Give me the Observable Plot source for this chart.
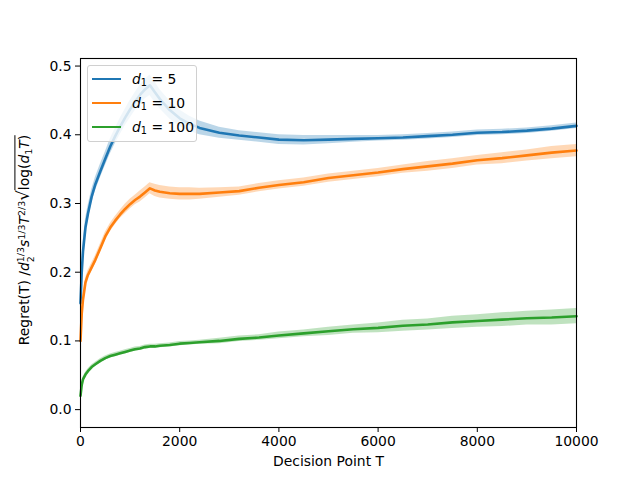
<!DOCTYPE html>
<html>
<head>
<meta charset="utf-8">
<script src="https://cdn.jsdelivr.net/npm/d3@7"></script>
<script src="https://cdn.jsdelivr.net/npm/@observablehq/plot@0.6"></script>
<style>
  body { margin: 0; background: #fff; }
  #wrap { position: relative; width: 640px; height: 480px; font-family: "DejaVu Sans", sans-serif; }
  #legend { position: absolute; left: 87px; top: 65px; width: 110px; height: 77px;
    border: 1px solid #d0d0d0; border-radius: 3px; background: rgba(255,255,255,0.8);
    font-size: 13.9px; box-sizing: border-box; }
  .row { position: absolute; left: 4px; height: 20px; display: flex; align-items: center; }
  .sw { width: 29px; height: 2.8px; margin-right: 11px; }
  .lt sub { font-size: 70%; vertical-align: -0.25em; line-height: 0; }
  #ylab { position: absolute; left: 25px; top: 240px; transform: translate(-50%, -50%) rotate(-90deg);
    white-space: nowrap; font-size: 13.9px; }
  .ss { display: inline-flex; flex-direction: column; font-size: 68%; line-height: 1.0; vertical-align: 0.5em; }
  .sp { font-size: 68%; vertical-align: 0.5em; line-height: 0; }
  .sb { font-size: 68%; vertical-align: -0.25em; line-height: 0; }
  .ov { border-top: 1px solid #000; padding-top: 1px; }
</style>
</head>
<body>
<div id="wrap">
  <div id="chart"></div>
  <div id="legend"></div>
  <div id="ylab">Regret(T) /<i>d</i><span class="ss"><span>1/3</span><span>2</span></span><i>s</i><span class="sp">1/3</span><i>T</i><span class="sp">2/3</span><span style="font-size:120%">√</span><span class="ov">log(<i>d</i><span class="sb">1</span><i>T</i>)</span></div>
</div>
<script>
// Decision points
const T = [0,25,50,100,150,225,300,400,500,600,700,800,900,1000,1100,1200,1300,1400,1500,1600,1800,2000,2200,2400,2800,3200,3600,4000,4500,5000,5500,6000,6500,7000,7500,8000,8500,9000,9500,10000];

// Series means
const blue   = [0.155,0.200,0.230,0.265,0.285,0.310,0.328,0.347,0.365,0.383,0.398,0.412,0.425,0.437,0.448,0.458,0.466,0.472,0.462,0.452,0.436,0.424,0.416,0.410,0.403,0.399,0.396,0.393,0.392,0.393,0.394,0.395,0.396,0.398,0.400,0.403,0.404,0.406,0.409,0.413];
const orange = [0.100,0.140,0.160,0.185,0.196,0.207,0.218,0.235,0.252,0.265,0.275,0.284,0.292,0.299,0.305,0.310,0.316,0.322,0.319,0.317,0.315,0.314,0.314,0.314,0.316,0.318,0.323,0.327,0.331,0.337,0.341,0.345,0.350,0.354,0.358,0.363,0.366,0.370,0.374,0.377];
const green  = [0.020,0.036,0.044,0.051,0.056,0.062,0.066,0.071,0.075,0.078,0.080,0.082,0.084,0.086,0.088,0.089,0.091,0.092,0.092,0.093,0.094,0.096,0.097,0.098,0.100,0.103,0.105,0.108,0.111,0.114,0.117,0.119,0.122,0.124,0.127,0.129,0.131,0.133,0.134,0.136];

// Band half-widths
const blueErr   = [0.008,0.010,0.012,0.012,0.011,0.010,0.010,0.010,0.010,0.011,0.011,0.012,0.012,0.013,0.013,0.014,0.014,0.015,0.015,0.014,0.013,0.012,0.011,0.010,0.008,0.007,0.007,0.007,0.007,0.006,0.005,0.004,0.004,0.004,0.004,0.004,0.004,0.004,0.004,0.004];
const orangeErr = [0.004,0.005,0.006,0.006,0.006,0.006,0.006,0.006,0.006,0.006,0.006,0.006,0.007,0.007,0.007,0.008,0.008,0.008,0.009,0.009,0.009,0.009,0.009,0.008,0.007,0.006,0.006,0.006,0.006,0.006,0.006,0.006,0.006,0.007,0.007,0.007,0.008,0.008,0.009,0.009];
const greenErr  = [0.002,0.002,0.003,0.003,0.003,0.003,0.003,0.003,0.003,0.003,0.003,0.003,0.003,0.003,0.003,0.003,0.003,0.003,0.003,0.003,0.003,0.003,0.003,0.003,0.004,0.004,0.004,0.005,0.005,0.006,0.006,0.007,0.008,0.008,0.009,0.009,0.010,0.010,0.011,0.011];

const seriesNames = ["5", "10", "100"];
const colors = ["#1f77b4", "#ff7f0e", "#2ca02c"];
const xTicks = [0, 2000, 4000, 6000, 8000, 10000];
const yTicks = [0.0, 0.1, 0.2, 0.3, 0.4, 0.5];

const series = [
  {name: seriesNames[0], v: blue, e: blueErr},
  {name: seriesNames[1], v: orange, e: orangeErr},
  {name: seriesNames[2], v: green, e: greenErr}
];
const rows = series.flatMap(s => T.map((t, i) => ({T: t, v: s.v[i], lo: s.v[i] - s.e[i], hi: s.v[i] + s.e[i], series: s.name})));

const marks = [];
for (const s of series) {
  const d = rows.filter(r => r.series === s.name);
  marks.push(Plot.areaY(d, {x: "T", y1: "lo", y2: "hi", fill: "series", fillOpacity: 0.3}));
  marks.push(Plot.line(d, {x: "T", y: "v", stroke: "series", strokeWidth: 2.6}));
}

const chart = Plot.plot({
  width: 640, height: 480,
  marginLeft: 80, marginRight: 64, marginTop: 58, marginBottom: 53,
  style: {fontFamily: "DejaVu Sans, sans-serif", fontSize: "13.9px", color: "#000", background: "#fff"},
  x: {domain: [0, 10000]},
  y: {domain: [-0.026, 0.511]},
  color: {domain: seriesNames, range: colors},
  marks: [
    ...marks,
    Plot.axisX({ticks: xTicks, tickSize: 5, tickPadding: 4, tickFormat: d3.format("d"), label: "Decision Point T", labelAnchor: "center", labelOffset: 38, labelArrow: "none"}),
    Plot.axisY({ticks: yTicks, tickSize: 5, tickPadding: 4, tickFormat: d3.format(".1f"), label: null}),
    Plot.frame({stroke: "#000", strokeWidth: 1.1})
  ]
});
document.getElementById("chart").appendChild(chart);

// Legend
const leg = document.getElementById("legend");
const rowTops = [3, 27, 51];
series.forEach((s, i) => {
  const r = document.createElement("div");
  r.className = "row";
  r.style.top = rowTops[i] + "px";
  r.innerHTML = `<div class="sw" style="background:${colors[i]}"></div><span class="lt"><i>d</i><sub>1</sub> = ${s.name}</span>`;
  leg.appendChild(r);
});
</script>
</body>
</html>
